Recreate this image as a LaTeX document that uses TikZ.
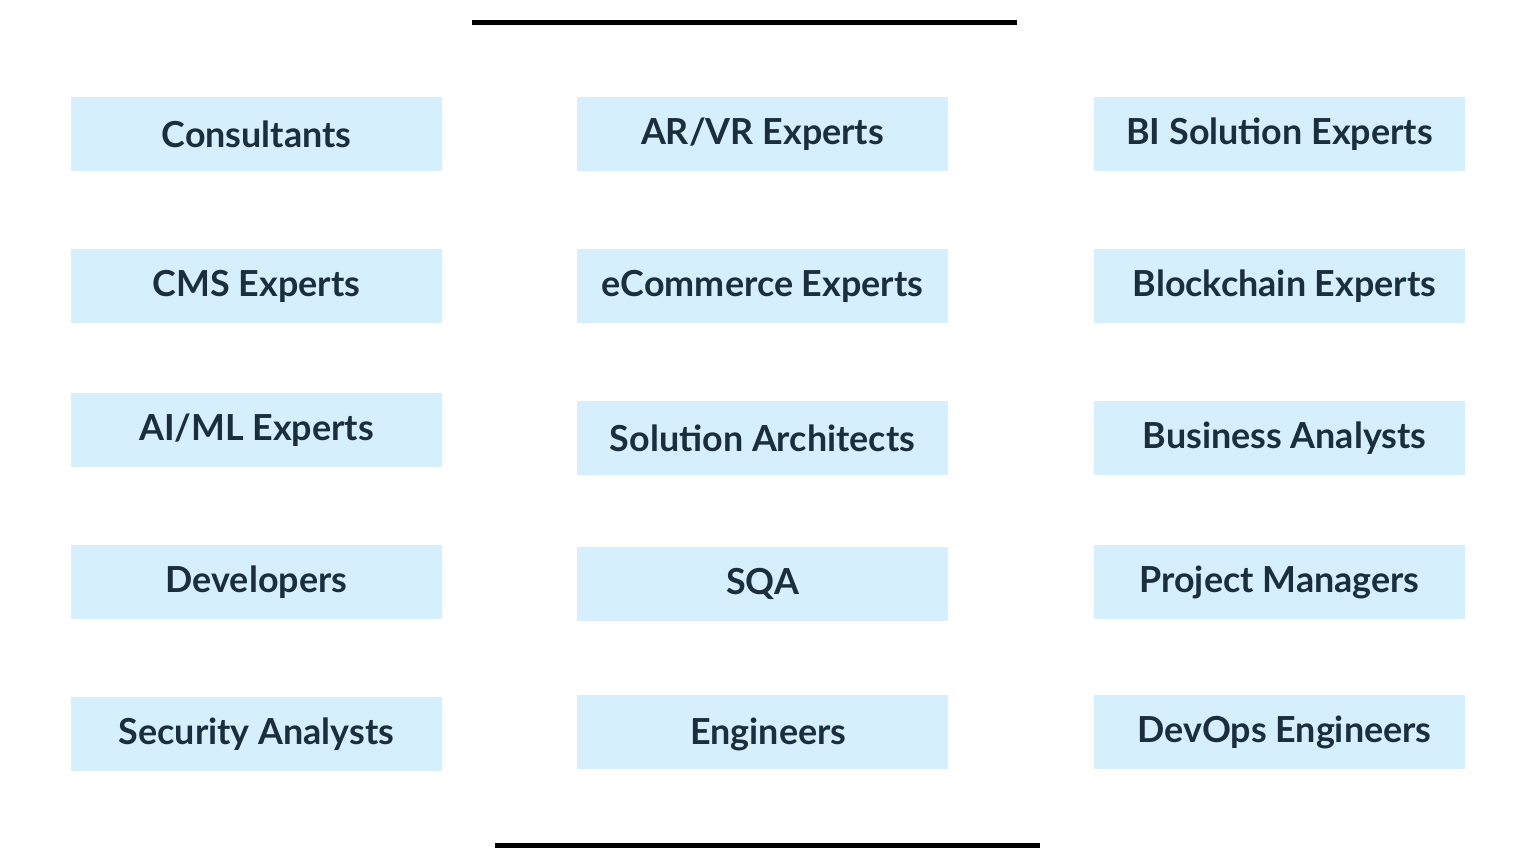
\documentclass[tikz,border=0pt]{standalone}
\usepackage{fontspec}
\setmainfont{Lato}
\usepackage{xcolor}
\definecolor{boxfill}{HTML}{D6EFFC}
\definecolor{boxtext}{HTML}{1A2E3D}
\usetikzlibrary{positioning}

\begin{document}
\begin{tikzpicture}[x=1bp,y=-1bp,
  role/.style={fill=boxfill,minimum width=371bp,minimum height=74bp,
    text=boxtext,font=\fontsize{36}{40}\selectfont\bfseries,inner sep=0pt},
  label/.style={text=boxtext,font=\fontsize{36}{40}\selectfont\bfseries,inner sep=0pt}]
\useasboundingbox (0,0) rectangle (1536,864);

% rules
\coordinate (t1) at (472,22); \coordinate (t2) at (1017,22);
\coordinate (b1) at (495,845); \coordinate (b2) at (1040,845);
\draw[line width=5bp] (t1) -- (t2);
\draw[line width=5bp] (b1) -- (b2);

% column 1
\node[role] (cons) at (256.5,134) {Consultants};
\node[role] (cms) at (256.5,286) {CMS Experts};
\node[role] (aiml) at (256.5,430) {AI/ML Experts};
\node[role] (dev) at (256.5,582) {Developers};
\node[role] (sec) at (256.5,734) {Security Analysts};

% column 2
\node[role] (arvr) at (762.5,134) {AR/VR Experts};
\node[role] (ecom) at (762.5,286) {eCommerce Experts};
\node[role] (arch) at (762.5,438) {Solution Architects};
\node[role] (sqa) at (762.5,584) {SQA};
\node[role] (eng) at (762.5,732) {};
\node[label] at ([xshift=6bp,yshift=-2bp]eng.center) {Engineers};

% column 3
\node[role] (bi) at (1279.5,134) {BI Solution Experts};
\node[role] (chain) at (1279.5,286) {};
\node[label] at ([xshift=5bp]chain.center) {Blockchain Experts};
\node[role] (ba) at (1279.5,438) {};
\node[label] at ([xshift=5bp]ba.center) {Business Analysts};
\node[role] (pm) at (1279.5,582) {Project Managers};
\node[role] (ops) at (1279.5,732) {};
\node[label] at ([xshift=5bp]ops.center) {DevOps Engineers};
\end{tikzpicture}
\end{document}
